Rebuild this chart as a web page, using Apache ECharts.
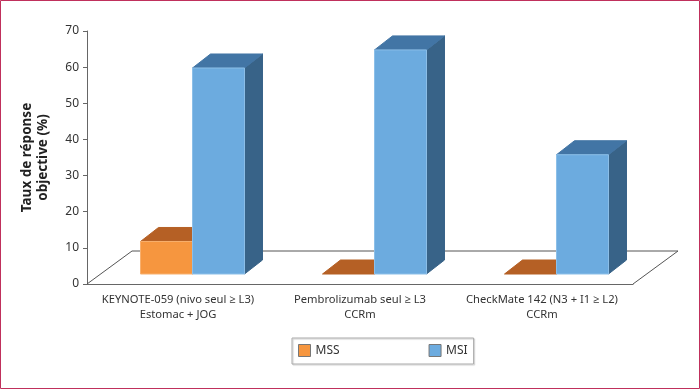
<!DOCTYPE html>
<html>
<head>
<meta charset="utf-8">
<style>html,body{margin:0;padding:0;background:#fff}#c{width:700px;height:389px}</style>
<script src="https://cdn.jsdelivr.net/npm/echarts@6/dist/echarts.min.js"></script>
</head>
<body>
<div id="c"></div>
<script>
const categories = ['KEYNOTE-059 (nivo seul ≥ L3)\nEstomac + JOG', 'Pembrolizumab seul ≥ L3\nCCRm', 'CheckMate 142 (N3 + I1 ≥ L2)\nCCRm'];
const mss = [9, 0, 0];
const msi = [57, 62, 33];
const yTicks = {min: 0, max: 70, interval: 10};
const FONT = '"Noto Sans","Open Sans",sans-serif';

const chart = echarts.init(document.getElementById('c'), null, {renderer: 'canvas'});
const FRONT = [14.5, -10], DEPTH = [18, -14], BACK = [45, -33];

function bar3d(slot, colors) {
  return function (params, api) {
    const base = api.coord([api.value(0), 0]);
    const top = api.coord([api.value(0), api.value(1)]);
    const w = api.size([1, 0])[0] * 0.2857;
    const x0 = base[0] + FRONT[0] + (slot === 0 ? -w : 0), x1 = x0 + w;
    const yb = base[1] + FRONT[1], yt = top[1] + FRONT[1];
    const children = [];
    const poly = (pts, fill, stroke) => children.push({type: 'polygon', shape: {points: pts}, style: {fill: fill, stroke: stroke || fill, lineWidth: 1}});
    if (yb - yt > 0) poly([[x1, yb], [x1 + DEPTH[0], yb + DEPTH[1]], [x1 + DEPTH[0], yt + DEPTH[1]], [x1, yt]], colors.side);
    poly([[x0, yt], [x0 + DEPTH[0], yt + DEPTH[1]], [x1 + DEPTH[0], yt + DEPTH[1]], [x1, yt]], colors.top);
    if (yb - yt > 0) poly([[x0, yb], [x1, yb], [x1, yt], [x0, yt]], colors.front, colors.edge);
    return {type: 'group', children: children};
  };
}
function floor(params) {
  const c = params.coordSys;
  const l = c.x, r = c.x + c.width, b = c.y + c.height;
  return {
    type: 'polyline',
    shape: {points: [[l, b], [l + BACK[0], b + BACK[1]], [r + BACK[0], b + BACK[1]], [r, b]]},
    style: {fill: null, stroke: '#555', lineWidth: 1}
  };
}

chart.setOption({
  animation: false,
  backgroundColor: '#fff',
  graphic: [{type: 'rect', silent: true, z: 100, shape: {x: 0.5, y: 0.5, width: 699, height: 388},
    style: {fill: null, stroke: '#c0305c', lineWidth: 1}}],
  grid: {left: 87, top: 31, width: 546, height: 253, containLabel: false, outerBoundsMode: 'none'},
  legend: {
    data: ['MSS', 'MSI'], left: 292, top: 338, padding: [6, 6, 7, 6], icon: 'rect',
    itemWidth: 12, itemHeight: 12, itemGap: 89, itemStyle: {borderColor: '#777', borderWidth: 1},
    borderColor: '#aaa', borderWidth: 1, shadowColor: 'rgba(0,0,0,0.2)', shadowBlur: 1, shadowOffsetX: 1, shadowOffsetY: 1,
    textStyle: {fontFamily: FONT, fontSize: 12, color: '#333'}
  },
  xAxis: {
    type: 'category', data: categories,
    axisLine: {lineStyle: {color: '#666', width: 1}},
    axisTick: {length: 3, lineStyle: {color: '#666'}},
    axisLabel: {fontFamily: FONT, fontSize: 11.2, color: '#333', lineHeight: 15, margin: 8, interval: 0}
  },
  yAxis: {
    type: 'value', min: yTicks.min, max: yTicks.max, interval: yTicks.interval,
    name: 'Taux de réponse\nobjective (%)', nameLocation: 'middle', nameRotate: 90, nameGap: 36,
    nameTextStyle: {fontFamily: FONT, fontSize: 13.5, fontWeight: 'bold', color: '#222', lineHeight: 16},
    axisLine: {show: true, lineStyle: {color: '#666', width: 1}},
    axisTick: {show: true, length: 4, lineStyle: {color: '#666'}},
    splitLine: {show: false},
    axisLabel: {fontFamily: FONT, fontSize: 12, color: '#333', margin: 8}
  },
  series: [
    {type: 'custom', name: 'floor', renderItem: floor, data: [0], silent: true, z: 1},
    {type: 'custom', name: 'MSS', z: 2,
      renderItem: bar3d(0, {front: '#F6963F', top: '#B56025', side: '#B56025', edge: '#F8B06E'}),
      itemStyle: {color: '#F6963F'},
      encode: {x: 0, y: 1}, data: mss.map((v, i) => [i, v])},
    {type: 'custom', name: 'MSI', z: 3,
      renderItem: bar3d(1, {front: '#6CABDF', top: '#4275A5', side: '#386388', edge: '#8CBFE8'}),
      itemStyle: {color: '#6CABDF'},
      encode: {x: 0, y: 1}, data: msi.map((v, i) => [i, v])}
  ]
});
</script>
</body>
</html>
